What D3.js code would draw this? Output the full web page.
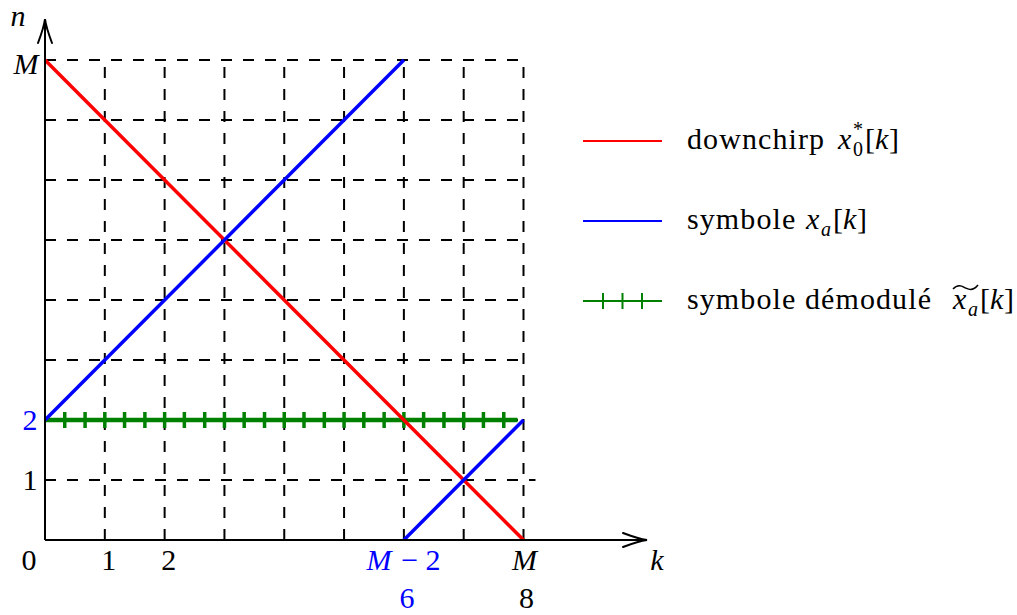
<!DOCTYPE html>
<html>
<head>
<meta charset="utf-8">
<script src="https://cdn.jsdelivr.net/npm/d3@7"></script>
</head>
<body style="margin:0">
<svg id="chart" width="1017" height="615"></svg>
<script>
// Chirp de-modulation diagram: M = 8 samples
const M = 8;

// downchirp x0*[k]
const downchirpK = [0, 8];
const downchirpN = [8, 0];

// symbol x_a[k], a = 2, wraps at k = M - 2
const symbolSeg1K = [0, 6];
const symbolSeg1N = [2, 8];
const symbolSeg2K = [6, 8];
const symbolSeg2N = [0, 2];

// de-modulated symbol: constant at n = 2
const demodK = [0, 7.9];
const demodN = [2, 2];
const demodMarkK = [0.33, 0.67, 1, 1.33, 1.67, 2, 2.33, 2.67, 3, 3.33, 3.67, 4,
                    4.33, 4.67, 5, 5.33, 5.67, 6, 6.33, 6.67, 7, 7.33, 7.67];

// grid positions
const gridK = [1, 2, 3, 4, 5, 6, 7, 8];
const gridN = [1, 2, 3, 4, 5, 6, 7, 8];

// tick labels
const xTickLabels = ["0", "1", "2", "M", "M"];
const xTickK = [0, 1, 2, 6, 8];
const xTickNumLabels = ["6", "8"];
const xTickNumK = [6, 8];
const yTickLabels = ["M", "2", "1"];
const yTickN = [8, 2, 1];

const SERIF = '"Liberation Serif"';
const FS = 30;
const RED = "#ff0000", BLUE = "#0000ff", GREEN = "#008000";

const svg = d3.select("#chart");
const x = d3.scaleLinear().domain([0, M]).range([45, 523.5]);
const y = d3.scaleLinear().domain([0, M]).range([540, 60]);

const line = d3.line().x(d => x(d[0])).y(d => y(d[1]));
const zip = (a, b) => a.map((v, i) => [v, b[i]]);

// dashed grid
const grid = svg.append("g").attr("stroke", "#000").attr("stroke-width", 2)
  .attr("stroke-dasharray", "11,11").attr("fill", "none");
grid.selectAll("line.v").data(gridK).join("line").attr("class", "v")
  .attr("x1", d => x(d)).attr("x2", d => x(d))
  .attr("y1", y(0)).attr("y2", y(M));
grid.selectAll("line.h").data(gridN).join("line").attr("class", "h")
  .attr("x1", x(0)).attr("x2", d => d === 1 ? x(M) + 12 : x(M))
  .attr("y1", d => y(d)).attr("y2", d => y(d));

// series
svg.append("path").datum(zip(demodK, demodN)).attr("d", line)
  .attr("stroke", GREEN).attr("stroke-width", 4.5).attr("fill", "none");
svg.append("g").selectAll("line").data(demodMarkK).join("line")
  .attr("x1", d => x(d)).attr("x2", d => x(d))
  .attr("y1", y(2) - 8).attr("y2", y(2) + 8)
  .attr("stroke", GREEN).attr("stroke-width", 3.5);

svg.append("path").datum(zip(downchirpK, downchirpN)).attr("d", line)
  .attr("stroke", RED).attr("stroke-width", 3.5).attr("fill", "none");
[zip(symbolSeg1K, symbolSeg1N), zip(symbolSeg2K, symbolSeg2N)].forEach(seg => {
  svg.append("path").datum(seg).attr("d", line)
    .attr("stroke", BLUE).attr("stroke-width", 3.5).attr("fill", "none");
});

// axes with LaTeX-style arrow tips
const axes = svg.append("g").attr("stroke", "#000").attr("stroke-width", 2).attr("fill", "none");
const xTip = 647, yTip = 19;
axes.append("line").attr("x1", x(0)).attr("x2", xTip).attr("y1", y(0)).attr("y2", y(0));
axes.append("line").attr("x1", x(0)).attr("x2", x(0)).attr("y1", y(0)).attr("y2", yTip);
axes.append("path").attr("stroke-linecap", "round")
  .attr("d", `M${xTip - 24},${y(0) - 7} Q${xTip - 8},${y(0) - 1} ${xTip},${y(0)} Q${xTip - 8},${y(0) + 1} ${xTip - 24},${y(0) + 7}`);
axes.append("path").attr("stroke-linecap", "round")
  .attr("d", `M${x(0) - 7},${yTip + 24} Q${x(0) - 1},${yTip + 8} ${x(0)},${yTip} Q${x(0) + 1},${yTip + 8} ${x(0) + 7},${yTip + 24}`);

// plain text element, one style per element
function txt(g, px, py, s, o = {}) {
  const t = g.append("text").attr("x", px).attr("y", py)
    .style("font-family", SERIF)
    .style("font-size", (o.fs || FS) + "px")
    .style("font-style", o.it ? "italic" : "normal")
    .style("fill", o.color || "#000")
    .attr("text-anchor", o.anchor || "middle")
    .text(s);
  if (o.ls) t.style("letter-spacing", o.ls + "px");
  return t;
}

const labels = svg.append("g");
txt(labels, 18, 26, "n", { it: true });
txt(labels, 657, 570, "k", { it: true });

// x tick labels
const xOff = [-16, 4, 4, 0, 1];
xTickLabels.forEach((s, i) => {
  const cx = x(xTickK[i]) + xOff[i];
  if (xTickK[i] === 6) {
    txt(labels, cx - 25, 570, "M", { it: true, color: BLUE });
    txt(labels, cx + 17, 570, "\u2212 2", { color: BLUE });
  } else {
    txt(labels, cx, 570, s, { it: s === "M" });
  }
});
xTickNumLabels.forEach((s, i) =>
  txt(labels, x(xTickNumK[i]) + 3, 608, s, { color: xTickNumK[i] === 6 ? BLUE : "#000" }));
yTickLabels.forEach((s, i) =>
  txt(labels, s === "M" ? 26 : 30, y(yTickN[i]) + (s === "M" ? 14 : 10), s,
    { it: s === "M", color: yTickN[i] === 2 ? BLUE : "#000" }));

// legend
const legend = svg.append("g");
const legX1 = 583, legX2 = 662, textX = 687;
const rows = [141, 221, 301];
const legendColors = [RED, BLUE, GREEN];
const legendWords = ["downchirp", "symbole", "symbole d\u00e9modul\u00e9"];
const mathX = [838, 806, 953];

legendColors.forEach((c, i) => {
  legend.append("line").attr("x1", legX1).attr("x2", legX2).attr("y1", rows[i]).attr("y2", rows[i])
    .attr("stroke", c).attr("stroke-width", 2);
  txt(legend, textX, rows[i] + 8, legendWords[i], { anchor: "start", ls: 1.1 });
});
legend.selectAll("line.mk").data([603, 622.5, 642]).join("line").attr("class", "mk")
  .attr("x1", d => d).attr("x2", d => d).attr("y1", rows[2] - 8).attr("y2", rows[2] + 8)
  .attr("stroke", GREEN).attr("stroke-width", 2);

// math parts: x0*[k], xa[k], x~a[k]
function mathLabel(px, base, sub, sup) {
  txt(legend, px, base, "x", { it: true, anchor: "start" });
  if (sup) txt(legend, px + 15, base - 13, sup, { fs: 20, anchor: "start" });
  txt(legend, px + 15, base + 7, sub, { fs: 20, it: sub !== "0", anchor: "start" });
  const bx = px + 27;
  txt(legend, bx, base, "[", { anchor: "start" });
  txt(legend, bx + 10, base, "k", { it: true, anchor: "start" });
  txt(legend, bx + 24, base, "]", { anchor: "start" });
}
mathLabel(mathX[0], rows[0] + 8, "0", "*");
mathLabel(mathX[1], rows[1] + 8, "a");
mathLabel(mathX[2], rows[2] + 8, "a");

// wide tilde over x_a
const tx0 = mathX[2], tx1 = mathX[2] + 25, ty = rows[2] + 8 - 22, w = tx1 - tx0;
legend.append("path")
  .attr("d", `M${tx0},${ty + 2} C${tx0 + w * 0.25},${ty - 5} ${tx0 + w * 0.45},${ty + 1} ${tx0 + w / 2},${ty + 1} C${tx0 + w * 0.55},${ty + 1} ${tx0 + w * 0.75},${ty + 6} ${tx1},${ty - 2}`)
  .attr("fill", "none").attr("stroke", "#000").attr("stroke-width", 1.5);
</script>
</body>
</html>
